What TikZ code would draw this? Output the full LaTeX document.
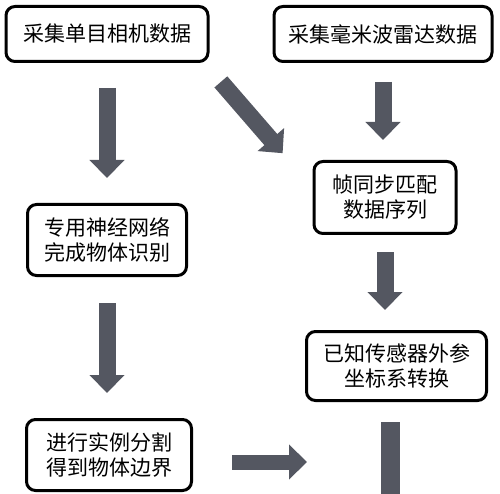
\documentclass[tikz,border=0pt]{standalone}
\usepackage{xcolor}
\usepackage{fontspec}
\newfontfamily\cjk{Noto Sans CJK SC}
\usepackage{tikz}
\usetikzlibrary{positioning,arrows.meta,calc}
\definecolor{arrowgray}{RGB}{84,87,97}

\begin{document}
\begin{tikzpicture}[x=1pt, y=-1pt,
    every node/.style={font=\cjk\fontsize{21}{25}\selectfont},
    box/.style={draw, line width=3pt, rounded corners=9pt, inner sep=0pt, align=center, fill=white},
    bigarrow/.style={-{Triangle[length=18pt, width=34pt]}, line width=17pt, draw=arrowgray},
    bar/.style={line width=19pt, draw=arrowgray},
]
\useasboundingbox (0,0) rectangle (500,494);

% Left column
\node[box, minimum width=202pt, minimum height=55pt] (cam) at (107,34) {采集单目相机数据};
\node[box, minimum width=159pt, minimum height=71pt] (nnet) at (107,240) {专用神经网络\\完成物体识别};
\node[box, minimum width=165pt, minimum height=71pt] (seg) at (109,455) {进行实例分割\\得到物体边界};

% Right column
\node[box, minimum width=218pt, minimum height=55pt] (radar) at (383,34) {采集毫米波雷达数据};
\node[box, minimum width=142pt, minimum height=72pt] (sync) at (385,197.5) {帧同步匹配\\数据序列};
\node[box, minimum width=180pt, minimum height=69pt] (extr) at (396.5,366) {已知传感器外参\\坐标系转换};

% Free ends
\coordinate (segout) at (307,462);
\coordinate (bottom) at (390,494);

% Arrows
\draw[bigarrow, shorten <=25pt, shorten >=25pt] (cam) -- (nnet);
\draw[bigarrow, shorten <=26pt, shorten >=25pt] (nnet) -- (nnet |- seg.north);
\draw[bigarrow, shorten <=19pt, shorten >=20pt] (radar) -- (radar |- sync.north);
\draw[bigarrow, shorten <=17pt, shorten >=20pt] (sync) -- (sync |- extr.north);
\draw[bigarrow, shorten <=25pt, shorten >=9pt] ([xshift=-5pt]cam.south east) -- ([xshift=-24pt]sync.north west);
\draw[bigarrow, line width=15pt, shorten <=39pt] (seg.east |- segout) -- (segout);
\draw[bar, shorten <=20pt] (bottom |- extr.south) -- (bottom);

\end{tikzpicture}
\end{document}
